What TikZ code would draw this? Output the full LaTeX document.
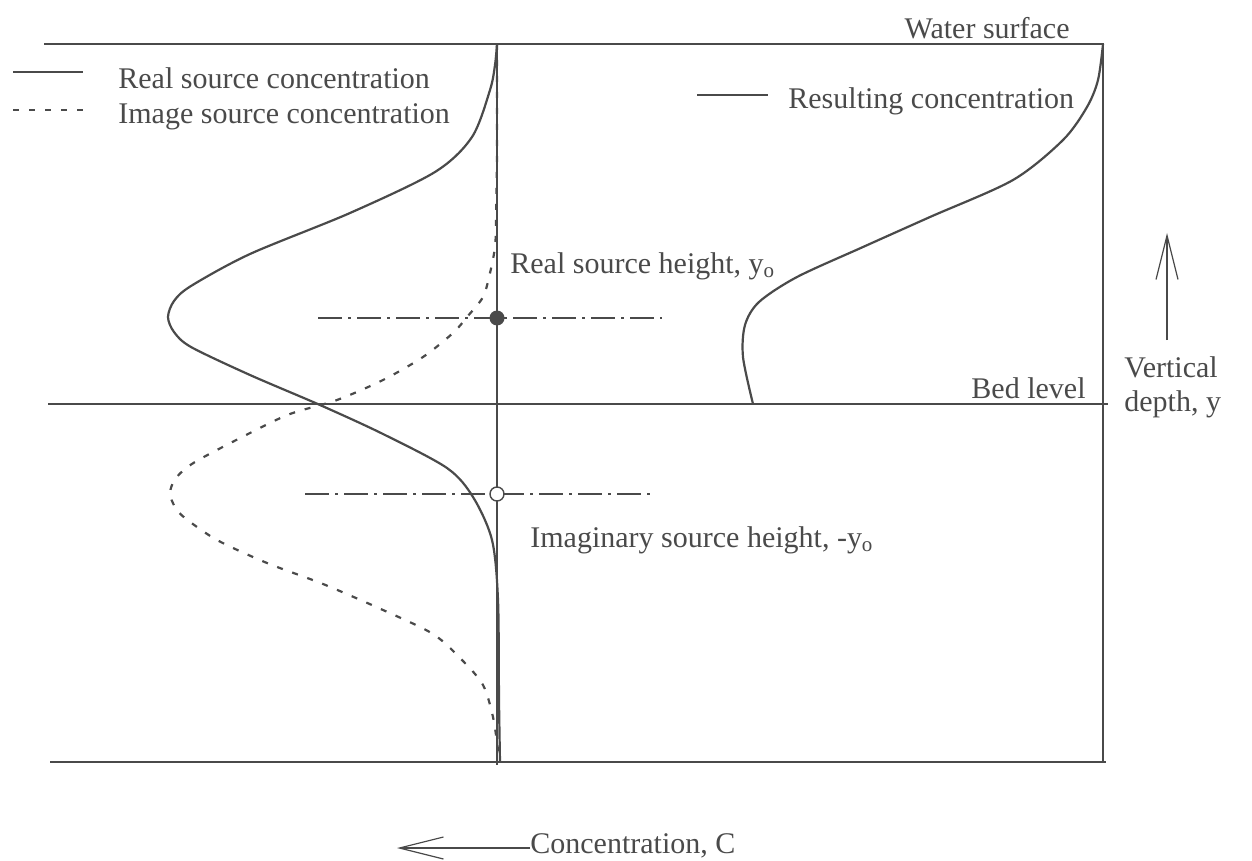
\documentclass[tikz,border=0pt]{standalone}
\usepackage{fontspec}
\setmainfont{Liberation Serif}
\usetikzlibrary{arrows.meta, positioning}
\definecolor{inkgray}{HTML}{4A4A4A}

\begin{document}
\begin{tikzpicture}[
    x=0.5pt, y=-0.5pt,
    every node/.style={font=\fontsize{15}{17}\selectfont, text=inkgray, inner sep=0pt},
    frame/.style={draw=inkgray, line width=0.7pt},
    realc/.style={draw=inkgray, line width=1.1pt},
    imagec/.style={draw=inkgray, line width=1.1pt, dash pattern=on 3pt off 5pt},
    srcline/.style={draw=inkgray, line width=0.7pt, dash pattern=on 12pt off 3pt on 1.5pt off 3pt},
    arrow/.style={-{Straight Barb[length=22pt, width=11pt]}, draw=inkgray, line width=0.6pt}
]
\useasboundingbox (0,0) rectangle (1252,861);

% frame of the water column
\coordinate (ws0) at (44,44);
\coordinate (ws1) at (1103,44);
\coordinate (bd0) at (48,404);
\coordinate (bd1) at (1108,404);
\coordinate (bt0) at (50,762);
\coordinate (bt1) at (1106,762);
\coordinate (axtop) at (497,44);
\coordinate (axbot) at (497,765);
\draw[frame] (ws0) -- (ws1) -- (1103,762);
\draw[frame] (bd0) -- (bd1);
\draw[frame] (bt0) -- (bt1);
\draw[frame] (axtop) -- (axbot);

% concentration profiles
\draw[realc] plot[smooth] coordinates {(497,44) (495,65) (490,90) (472,137) (435,172) (350,213) (250,254) (191,286) (174,301) (168,317) (174,332) (191,347) (250,375) (320,405) (383,434) (447,468) (473,497) (492,540) (498,600) (499,700) (500,762)};
\draw[imagec] plot[smooth] coordinates {(497,44) (497,150) (496,220) (495,247) (490,273) (483,297) (467,317) (453,333) (423,357) (383,380) (337,400) (290,414) (250,433) (195,462) (176,478) (170,493) (175,507) (185,518) (217,540) (267,563) (323,584) (383,610) (433,634) (462,660) (483,685) (493,717) (498,750) (499,762)};
\draw[realc] plot[smooth] coordinates {(1103,44) (1098,80) (1087,107) (1063,140) (1013,180) (930,217) (863,247) (797,277) (759,302) (745,325) (743,357) (753,404)};

% source heights
\coordinate (rs0) at (318,318);
\coordinate (rs1) at (662,318);
\coordinate (is0) at (305,494);
\coordinate (is1) at (650,494);
\draw[srcline] (rs0) -- (rs1);
\draw[srcline] (is0) -- (is1);
\node (realsrc) [circle, fill=inkgray, minimum size=7.5pt] at (497,318) {};
\node (imgsrc) [circle, draw=inkgray, line width=0.7pt, fill=white, minimum size=7pt] at (497,494) {};

% legend
\coordinate (lg1a) at (13,72);
\coordinate (lg1b) at (83,72);
\coordinate (lg2a) at (13,110);
\coordinate (lg2b) at (83,110);
\coordinate (lg3a) at (697,95);
\coordinate (lg3b) at (768,95);
\draw[realc, line width=0.8pt] (lg1a) -- (lg1b);
\draw[imagec, line width=0.8pt] (lg2a) -- (lg2b);
\draw[realc, line width=0.8pt] (lg3a) -- (lg3b);
\node (realleg) [anchor=west] at (118,78) {Real source concentration};
\node (imgleg) [anchor=west] at (118,117) {Image source concentration};
\node (resleg) [anchor=west] at (788,101) {Resulting concentration};

% labels
\node (water) [anchor=east] at (1070,28) {Water surface};
\node (bed) [anchor=east] at (1086,388) {Bed level};
\node (realh) [anchor=west] at (510,266) {Real source height, y\textsubscript{o}};
\node (imgh) [anchor=west] at (530,540) {Imaginary source height, -y\textsubscript{o}};
\node (depth) [anchor=west, align=left] at (1124,387) {Vertical\\depth, y};
\node (conc) [anchor=west] at (530,846) {Concentration, C};

% axis arrows
\coordinate (vtail) at (1167,340);
\coordinate (vtip) at (1167,233);
\coordinate (ctip) at (397,848);
\draw[arrow] (vtail) -- (vtip);
\draw[arrow] (conc.west |- ctip) -- (ctip);
\end{tikzpicture}
\end{document}
